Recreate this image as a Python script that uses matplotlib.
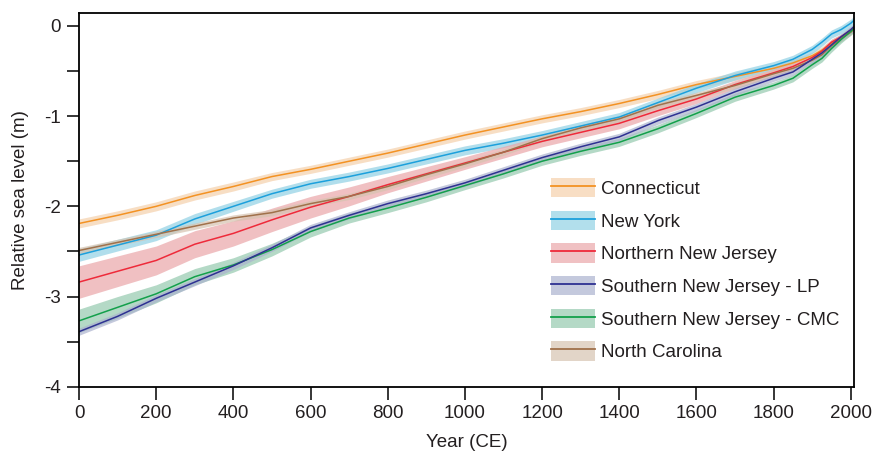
import matplotlib
matplotlib.use("Agg")
import matplotlib.pyplot as plt
from matplotlib.patches import Patch
from matplotlib.lines import Line2D
import numpy as np

years = [0, 100, 200, 300, 400, 500, 600, 700, 800, 900, 1000, 1100, 1200, 1300,
         1400, 1500, 1600, 1700, 1800, 1850, 1900, 1925, 1950, 1975, 2000, 2010]

connecticut = [-2.19, -2.10, -2.00, -1.88, -1.78, -1.67, -1.59, -1.50, -1.41, -1.31,
               -1.21, -1.12, -1.03, -0.95, -0.86, -0.76, -0.65, -0.56, -0.47, -0.41,
               -0.33, -0.27, -0.19, -0.13, -0.05, -0.01]
new_york = [-2.54, -2.43, -2.32, -2.14, -2.00, -1.86, -1.75, -1.67, -1.58, -1.48,
            -1.38, -1.30, -1.21, -1.11, -1.01, -0.85, -0.69, -0.55, -0.44, -0.37,
            -0.26, -0.18, -0.09, -0.04, 0.03, 0.07]
northern_nj = [-2.84, -2.72, -2.60, -2.42, -2.30, -2.15, -2.01, -1.89, -1.76, -1.64,
               -1.52, -1.40, -1.28, -1.18, -1.08, -0.94, -0.81, -0.65, -0.52, -0.45,
               -0.35, -0.28, -0.18, -0.12, -0.05, -0.02]
southern_nj_lp = [-3.39, -3.22, -3.02, -2.84, -2.66, -2.46, -2.24, -2.10, -1.97, -1.86,
                  -1.74, -1.60, -1.46, -1.34, -1.23, -1.05, -0.90, -0.73, -0.58, -0.51,
                  -0.37, -0.30, -0.21, -0.12, -0.04, 0.00]
southern_nj_cmc = [-3.27, -3.12, -2.97, -2.78, -2.65, -2.48, -2.28, -2.13, -2.02, -1.90,
                   -1.77, -1.64, -1.50, -1.39, -1.29, -1.14, -0.97, -0.79, -0.66, -0.58,
                   -0.43, -0.36, -0.25, -0.15, -0.06, -0.02]
north_carolina = [-2.49, -2.40, -2.31, -2.22, -2.13, -2.07, -1.97, -1.89, -1.78, -1.65,
                  -1.53, -1.40, -1.25, -1.13, -1.03, -0.88, -0.77, -0.66, -0.53, -0.47,
                  -0.38, -0.32, -0.22, -0.14, -0.07, -0.03]

# band half-widths (m)
unc_ct = [0.05, 0.05, 0.05, 0.05, 0.05, 0.045, 0.045, 0.045, 0.045, 0.045, 0.045, 0.045,
          0.045, 0.045, 0.045, 0.045, 0.045, 0.045, 0.04, 0.04, 0.04, 0.04, 0.04, 0.04, 0.04, 0.04]
unc_ny = [0.07, 0.065, 0.06, 0.06, 0.055, 0.05, 0.05, 0.05, 0.05, 0.05, 0.05, 0.05,
          0.05, 0.05, 0.05, 0.05, 0.05, 0.05, 0.045, 0.045, 0.045, 0.045, 0.045, 0.045, 0.045, 0.045]
unc_nnj = [0.18, 0.17, 0.16, 0.15, 0.14, 0.13, 0.12, 0.105, 0.09, 0.08, 0.07, 0.065,
           0.06, 0.06, 0.06, 0.055, 0.05, 0.045, 0.04, 0.04, 0.035, 0.035, 0.035, 0.03, 0.03, 0.03]
unc_lp = [0.04, 0.04, 0.04, 0.04, 0.04, 0.04, 0.04, 0.04, 0.04, 0.04, 0.04, 0.04,
          0.04, 0.04, 0.04, 0.04, 0.04, 0.04, 0.035, 0.035, 0.035, 0.035, 0.035, 0.035, 0.035, 0.035]
unc_cmc = [0.13, 0.12, 0.10, 0.09, 0.08, 0.07, 0.06, 0.055, 0.05, 0.05, 0.045, 0.045,
           0.045, 0.045, 0.045, 0.045, 0.045, 0.045, 0.04, 0.04, 0.04, 0.04, 0.04, 0.04, 0.04, 0.04]
unc_nc = [0.035] * 26

labels = ["Connecticut", "New York", "Northern New Jersey",
          "Southern New Jersey - LP", "Southern New Jersey - CMC", "North Carolina"]
colors = ["#F39223", "#1CA0DC", "#EE2A3A", "#2E3192", "#13A04B", "#A0714B"]
band_colors = ["#F8DEC4", "#B2DFEC", "#F0C1C3", "#C4C9DD", "#B4D9C6", "#E2D5C8"]
series = [connecticut, new_york, northern_nj, southern_nj_lp, southern_nj_cmc, north_carolina]
uncs = [unc_ct, unc_ny, unc_nnj, unc_lp, unc_cmc, unc_nc]

BAND_ALPHA = 0.7


def band_fill(hexcol):
    c = np.array(matplotlib.colors.to_rgb(hexcol))
    return tuple(np.clip(1 - (1 - c) / BAND_ALPHA, 0, 1))


plt.rcParams['font.family'] = ['Liberation Sans', 'DejaVu Sans']
text_color = "#231F20"
FS = 13.5

fig = plt.figure(figsize=(8.74, 4.59), dpi=100)
ax = fig.add_axes([0.0904, 0.1575, 0.8866, 0.8135])

x = np.array(years)
order = [0, 1, 2, 5, 4, 3]
for i in order:
    y = np.array(series[i]); u = np.array(uncs[i])
    ax.fill_between(x, y - u, y + u, color=band_fill(band_colors[i]),
                    alpha=BAND_ALPHA, linewidth=0)
for i in order:
    ax.plot(x, series[i], color=colors[i], lw=1.1)

handles = []
for i in range(6):
    handles.append((Patch(facecolor=band_colors[i], edgecolor='none'),
                    Line2D([], [], color=colors[i], lw=1.3)))

ax.set_xlim(0, 2008)
ax.set_ylim(-4, 0.14)
ax.set_xticks(range(0, 2001, 200))
ax.set_yticks([0, -1, -2, -3, -4])
ax.set_yticklabels(["0", "-1", "-2", "-3", "-4"])
ax.set_yticks([-0.5, -1.5, -2.5, -3.5], minor=True)
ax.tick_params(which='both', direction='out', length=9, width=1.1, colors='black',
               labelcolor=text_color, labelsize=FS, pad=4)
for s in ax.spines.values():
    s.set_linewidth(1.3)
    s.set_color('black')

ax.set_xlabel("Year (CE)", fontsize=FS, color=text_color, labelpad=9)
ax.set_ylabel("Relative sea level (m)", fontsize=FS, color=text_color, labelpad=11)

leg = ax.legend(handles, labels, loc='upper left', bbox_to_anchor=(0.609, 0.559),
                frameon=False, fontsize=FS, handlelength=2.35, handleheight=1.2,
                handletextpad=0.3, labelspacing=0.68, borderpad=0, borderaxespad=0)
for t in leg.get_texts():
    t.set_color(text_color)

fig.savefig("out.png", dpi=100)
